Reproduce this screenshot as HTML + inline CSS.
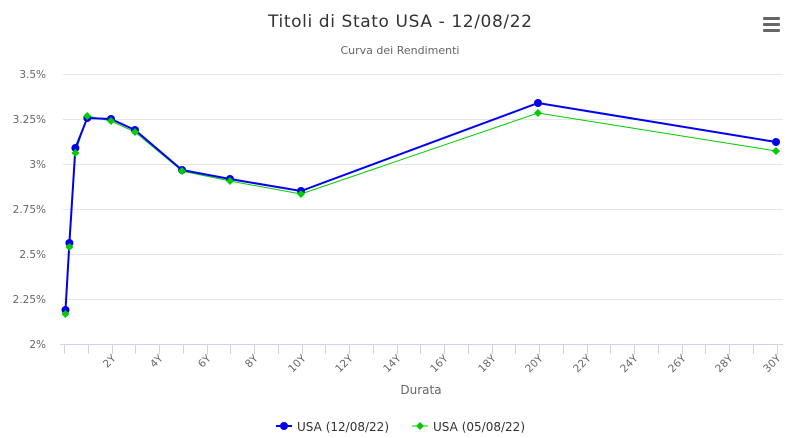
<!DOCTYPE html>
<html><head><meta charset="utf-8"><style>
body{margin:0;background:#fff;}
svg{display:block;font-family:"DejaVu Sans",sans-serif;}
</style></head><body>
<svg width="809" height="438" viewBox="0 0 809 438">
<text x="400" y="27" text-anchor="middle" font-size="17" fill="#333" textLength="264">Titoli di Stato USA - 12/08/22</text>
<text x="400" y="54" text-anchor="middle" font-size="11" fill="#666">Curva dei Rendimenti</text>
<g fill="#666"><rect x="763" y="17" width="17" height="3" rx="1"/><rect x="763" y="23" width="17" height="3" rx="1"/><rect x="763" y="29" width="17" height="3" rx="1"/></g>
<g stroke="#e6e6e6" stroke-width="1">
<line x1="63" x2="783" y1="74.5" y2="74.5"/><line x1="63" x2="783" y1="119.5" y2="119.5"/><line x1="63" x2="783" y1="164.5" y2="164.5"/><line x1="63" x2="783" y1="209.5" y2="209.5"/><line x1="63" x2="783" y1="254.5" y2="254.5"/><line x1="63" x2="783" y1="299.5" y2="299.5"/>
</g>
<line x1="60" x2="783" y1="344.5" y2="344.5" stroke="#ccd6eb"/>
<g font-size="10.5" fill="#666" text-anchor="end">
<text x="46" y="78">3.5%</text><text x="46" y="123">3.25%</text><text x="46" y="168">3%</text><text x="46" y="213">2.75%</text><text x="46" y="258">2.5%</text><text x="46" y="303">2.25%</text><text x="46" y="348">2%</text>
</g>
<g id="ticks" stroke="#ccd6eb"></g>
<g id="lab" font-size="10.5" fill="#666"></g>
<text x="421" y="394" text-anchor="middle" font-size="12" fill="#666">Durata</text>
<polyline fill="none" stroke="#00cc00" stroke-width="1" points="65.5,314 69.4,247 75.4,153 87.3,116 111,121 135,132 182,171 230,181 301,194 538,113 776,151"/>
<polyline fill="none" stroke="#0000ee" stroke-width="2" points="65.5,310 69.4,243 75.4,148 87.3,118 111,119 135,130 182,170 230,179 301,191 538,103 776,142"/>
<g fill="#0000ee">
<circle cx="65.5" cy="310" r="4"/><circle cx="69.4" cy="243" r="4"/><circle cx="75.4" cy="148" r="4"/><circle cx="87.3" cy="118" r="4"/><circle cx="111" cy="119" r="4"/><circle cx="135" cy="130" r="4"/><circle cx="182" cy="170" r="4"/><circle cx="230" cy="179" r="4"/><circle cx="301" cy="191" r="4"/><circle cx="538" cy="103" r="4"/><circle cx="776" cy="142" r="4"/>
</g>
<g fill="#00cc00" id="dia"></g>
<g font-size="12" fill="#333">
<line x1="276" x2="292" y1="426" y2="426" stroke="#0000ee" stroke-width="2"/><circle cx="284" cy="426" r="4" fill="#0000ee"/>
<text x="297" y="431" textLength="92">USA (12/08/22)</text>
<line x1="412" x2="428" y1="426" y2="426" stroke="#00cc00" stroke-width="1"/><path d="M420 422 L424 426 L420 430 L416 426Z" fill="#00cc00"/>
<text x="433" y="431" textLength="92">USA (05/08/22)</text>
</g>
</svg>
<script>
var t=document.getElementById('ticks'),l=document.getElementById('lab'),ns='http://www.w3.org/2000/svg';
for(var i=0;i<=30;i++){var x=Math.round(64+i*23.75)+0.5;var ln=document.createElementNS(ns,'line');ln.setAttribute('x1',x);ln.setAttribute('x2',x);ln.setAttribute('y1',344);ln.setAttribute('y2',354);t.appendChild(ln);
if(i>0&&i%2==0){var tx=document.createElementNS(ns,'text');tx.setAttribute('text-anchor','end');tx.setAttribute('transform','translate('+(x+4)+',359) rotate(-45)');tx.textContent=i+'Y';l.appendChild(tx);}}
var d=document.getElementById('dia');
[[65.5,314],[69.4,247],[75.4,153],[87.3,116],[111,121],[135,132],[182,171],[230,181],[301,194],[538,113],[776,151]].forEach(function(p){var pa=document.createElementNS(ns,'path');pa.setAttribute('d','M'+p[0]+' '+(p[1]-4)+' L'+(p[0]+4)+' '+p[1]+' L'+p[0]+' '+(p[1]+4)+' L'+(p[0]-4)+' '+p[1]+'Z');d.appendChild(pa);});
</script>
</body></html>
